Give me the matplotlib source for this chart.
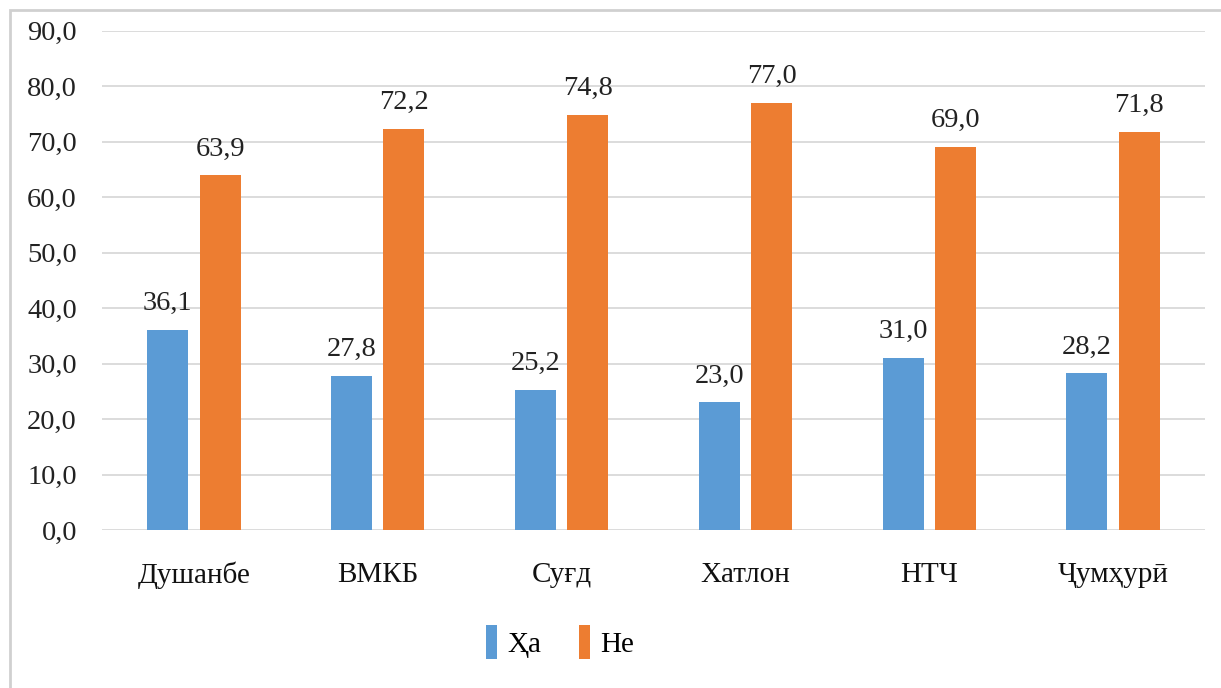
import matplotlib
matplotlib.use("Agg")
import matplotlib.pyplot as plt
import numpy as np
from matplotlib.patches import Rectangle

categories = ["Душанбе", "ВМКБ", "Суғд", "Хатлон", "НТЧ", "Ҷумҳурӣ"]
ha_values = [36.1, 27.8, 25.2, 23.0, 31.0, 28.2]
ne_values = [63.9, 72.2, 74.8, 77.0, 69.0, 71.8]
series_names = ["Ҳа", "Не"]
yticks = [0, 10, 20, 30, 40, 50, 60, 70, 80, 90]

plt.rcParams['font.family'] = ['Liberation Serif', 'DejaVu Serif']

W, H = 1221, 688
fig = plt.figure(figsize=(W / 100, H / 100), dpi=100)

# outer frame
fig.patches.append(Rectangle((10 / W, -0.1), 1.2, (H - 10) / H + 0.1, transform=fig.transFigure,
                             fill=False, edgecolor='#D0D0D0', linewidth=2.0))

ax = fig.add_axes([102 / W, 1 - 530 / H, (1205 - 102) / W, (530 - 30.5) / H])

x = np.arange(len(categories))
bw = 0.223
off = 0.142
c_ha = '#5B9BD5'
c_ne = '#ED7D31'
b1 = ax.bar(x - off, ha_values, bw, color=c_ha, label=series_names[0], zorder=3)
b2 = ax.bar(x + off, ne_values, bw, color=c_ne, label=series_names[1], zorder=3)

def fmt(v):
    return f"{v:.1f}".replace('.', ',')

for bars, vals in ((b1, ha_values), (b2, ne_values)):
    for r, v in zip(bars, vals):
        ax.annotate(fmt(v), (r.get_x() + r.get_width() / 2, v), xytext=(0, 10),
                    textcoords='offset points', ha='center', va='bottom', fontsize=20.5, color='#222222')

ax.set_xlim(-0.5, len(categories) - 0.5)
ax.set_ylim(0, 90)
ax.set_yticks(yticks)
ax.set_yticklabels([fmt(v) for v in yticks], fontsize=20.5, color='#222222')
ax.set_xticks(x)
ax.set_xticklabels(categories, fontsize=21, color='#111111')
ax.tick_params(axis='both', length=0)
ax.tick_params(axis='y', pad=18)
ax.tick_params(axis='x', pad=23)
ax.yaxis.grid(True, color='#D9D9D9', linewidth=1.3, zorder=0)
for s in ax.spines.values():
    s.set_visible(False)

leg = fig.legend(handles=[b1, b2], labels=series_names, loc='center', bbox_to_anchor=(560 / W, 1 - 642 / H),
                 ncol=2, frameon=False, fontsize=21, handlelength=0.38, handleheight=1.4,
                 handletextpad=0.35, columnspacing=1.3)

fig.savefig("out.png", dpi=100)
